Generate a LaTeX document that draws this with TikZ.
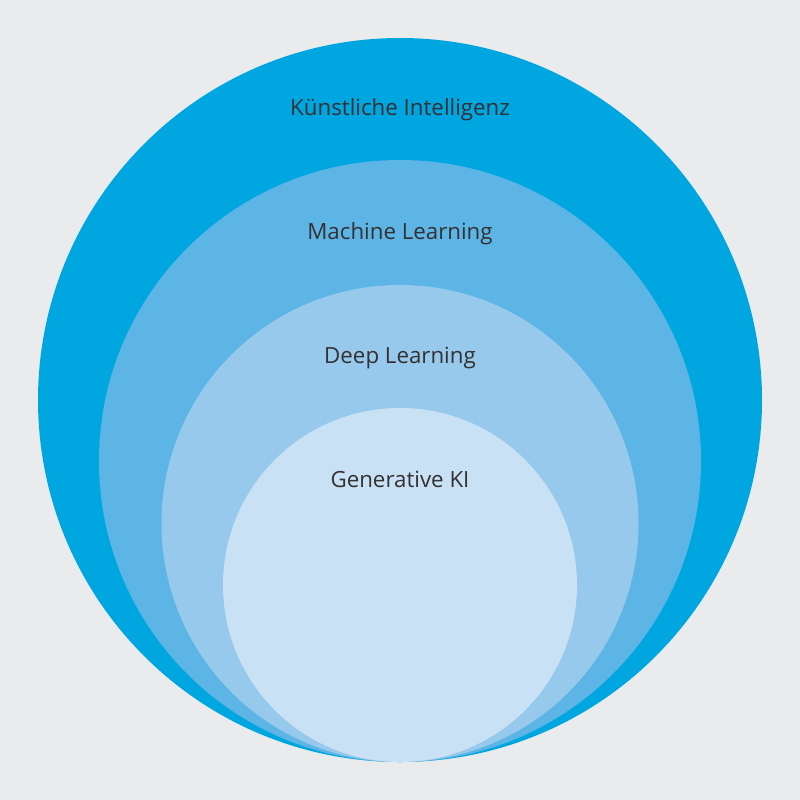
\documentclass[tikz,border=0pt]{standalone}
\usepackage{fontspec}
\setmainfont{Open Sans}
\definecolor{bg}{HTML}{EAEBED}
\definecolor{c1}{HTML}{00A6E0}
\definecolor{c2}{HTML}{5DB5E6}
\definecolor{c3}{HTML}{96C9EC}
\definecolor{c4}{HTML}{C9E1F4}
\definecolor{txt}{HTML}{353031}
\begin{document}
\begin{tikzpicture}[x=1pt,y=-1pt,
  ring/.style={circle, inner sep=0pt, minimum size=#1},
  lbl/.style={text=txt, font=\fontsize{22.3}{26}\selectfont, inner sep=0pt, anchor=base}]
\fill[bg] (0,0) rectangle (800,800);
\useasboundingbox (0,0) rectangle (800,800);
\node[ring=724pt, fill=c1] (ki) at (400,400) {};
\node[ring=602pt, fill=c2] (ml) at (400,461) {};
\node[ring=477pt, fill=c3] (dl) at (400,523.5) {};
\node[ring=354pt, fill=c4] (gk) at (400,585) {};
\node[lbl] (t1) at (400,115) {Künstliche Intelligenz};
\node[lbl] (t2) at (400,239) {Machine Learning};
\node[lbl] (t3) at (400,363) {Deep Learning};
\node[lbl] (t4) at (400,487) {Generative KI};
\end{tikzpicture}
\end{document}
